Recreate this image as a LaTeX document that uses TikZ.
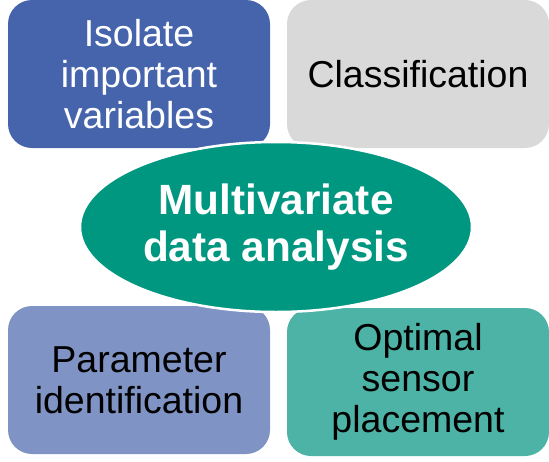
\documentclass[tikz,border=0pt]{standalone}
\usepackage{fontspec}
\setmainfont{Liberation Sans}
\usetikzlibrary{shapes.geometric}
\definecolor{cBlue}{HTML}{4664AC}
\definecolor{cGrey}{HTML}{D9D9D9}
\definecolor{cTeal}{HTML}{009780}
\definecolor{cLav}{HTML}{7F93C4}
\definecolor{cTealL}{HTML}{4DB3A6}
\begin{document}
\begin{tikzpicture}[x=1pt,y=-1pt,
  box/.style={rectangle, rounded corners=24pt, minimum width=262pt, minimum height=148pt, inner sep=0pt, align=center, font=\fontsize{37.5}{41}\selectfont},
  hub/.style={ellipse, fill=cTeal, draw=white, line width=2.5pt, minimum width=392pt, minimum height=170pt, inner sep=0pt, align=center, text=white, font=\fontsize{42.3}{47}\selectfont\bfseries}]
\useasboundingbox (0,0) rectangle (549,461);
\node[box, fill=cBlue, text=white] (iso) at (139,74) {Isolate\\important\\variables};
\node[box, fill=cGrey, text=black] (cls) at (418,74) {Classification};
\node[box, fill=cLav, text=black] (par) at (139,380) {Parameter\\identification};
\node[box, fill=cTealL, text=black] (opt) at (418,382) {Optimal\\sensor\\placement};
\node[hub] (mva) at (276,227) {Multivariate\\data analysis};
\end{tikzpicture}
\end{document}
